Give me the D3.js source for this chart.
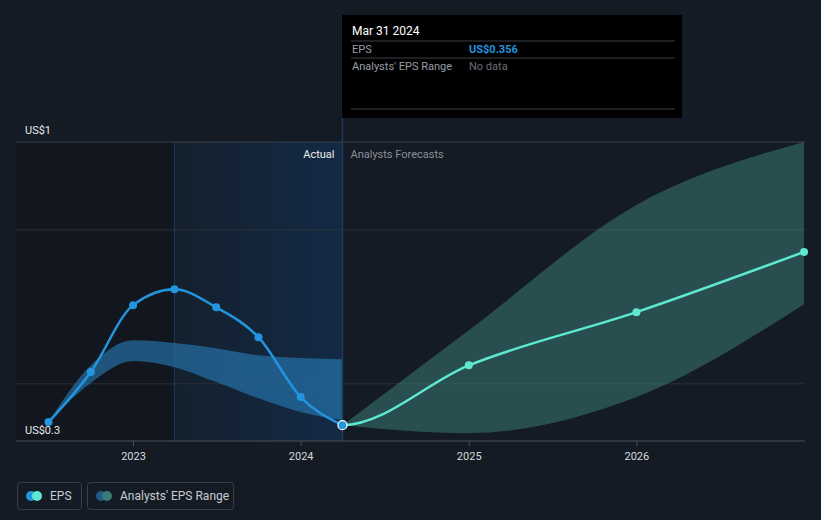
<!DOCTYPE html>
<html>
<head>
<meta charset="utf-8">
<script src="https://cdn.jsdelivr.net/npm/d3@7"></script>
<style>
  body { margin: 0; background: #151b24; }
  svg { display: block; font-family: Roboto, "Open Sans", sans-serif; }
</style>
</head>
<body>
<svg class="chart" width="821" height="520"></svg>
<script>
// past EPS (quarterly, trailing)
const epsDates = ["2022-06-30", "2022-09-30", "2022-12-31", "2023-03-31", "2023-06-30", "2023-09-30", "2023-12-31", "2024-03-31"];
const epsValues = [0.363, 0.477, 0.629, 0.665, 0.624, 0.556, 0.420, 0.356];

// past analyst range
const pastRangeDates = ["2022-06-30", "2022-09-30", "2022-12-31", "2023-03-31", "2023-06-30", "2023-09-30", "2023-12-31", "2024-03-31"];
const pastRangeLow = [0.363, 0.452, 0.502, 0.488, 0.454, 0.417, 0.386, 0.367];
const pastRangeHigh = [0.363, 0.492, 0.549, 0.543, 0.531, 0.515, 0.509, 0.506];

// forecasts
const fcDates = ["2024-03-31", "2024-12-31", "2025-12-31", "2026-12-31"];
const fcValues = [0.356, 0.492, 0.613, 0.750];
const fcLow = [0.356, 0.338, 0.420, 0.631];
const fcHigh = [0.356, 0.572, 0.857, 1.0];

const yearTicks = ["2023", "2024", "2025", "2026"];
const gridValues = [1, 0.8, 0.45];

const parse = d3.timeParse("%Y-%m-%d");
const svg = d3.select(".chart");

const x = d3.scaleTime()
  .domain([parse("2023-01-01"), parse("2027-01-01")])
  .range([133.5, 804.5]);
const y = d3.scaleLinear().domain([0.32, 1]).range([441, 142]);

const plotLeft = 16, plotRight = 805, plotTop = 142, plotBottom = 441;
const nowX = x(parse("2024-03-31"));
const yearAgoX = x(parse("2023-03-31"));

// darker area before last year
svg.append("rect")
  .attr("x", plotLeft).attr("y", plotTop)
  .attr("width", yearAgoX - plotLeft).attr("height", plotBottom - plotTop)
  .attr("fill", "#12171f");

// highlight gradient for the last year
const defs = svg.append("defs");
const grad = defs.append("linearGradient").attr("id", "hl");
grad.append("stop").attr("offset", "0%").attr("stop-color", "#14202d");
grad.append("stop").attr("offset", "100%").attr("stop-color", "#132a45");
svg.append("rect")
  .attr("x", yearAgoX).attr("y", plotTop)
  .attr("width", nowX - yearAgoX).attr("height", plotBottom - plotTop)
  .attr("fill", "url(#hl)");
svg.append("line")
  .attr("x1", yearAgoX).attr("x2", yearAgoX)
  .attr("y1", plotTop).attr("y2", plotBottom)
  .attr("stroke", "#1c3a55").attr("stroke-width", 1);

// clip for forecast part (starts at "now")
defs.append("clipPath").attr("id", "fcclip")
  .append("rect")
  .attr("x", nowX).attr("y", 0)
  .attr("width", plotRight - nowX + 5).attr("height", plotBottom);

// gridlines
svg.selectAll(".grid")
  .data(gridValues)
  .enter()
  .append("line")
  .attr("class", "grid")
  .attr("x1", plotLeft).attr("x2", plotRight)
  .attr("y1", d => y(d)).attr("y2", d => y(d))
  .attr("stroke", d => d === 1 ? "#3a404b" : "#2a303a")
  .attr("stroke-width", 1);

// bands
const area = d3.area().curve(d3.curveMonotoneX);

const pastBand = pastRangeDates.map((d, i) => [x(parse(d)), y(pastRangeLow[i]), y(pastRangeHigh[i])]);
svg.append("path")
  .attr("d", area.x(d => d[0]).y0(d => d[1]).y1(d => d[2])(pastBand))
  .attr("fill", "#2a87c8")
  .attr("opacity", 0.55);

const fcBand = fcDates.map((d, i) => [x(parse(d)), y(fcLow[i]), y(fcHigh[i])]);
svg.append("path")
  .attr("d", area.x(d => d[0]).y0(d => d[1]).y1(d => d[2])(fcBand))
  .attr("fill", "#4aa89e")
  .attr("opacity", 0.36);

// vertical "now" line
svg.append("line")
  .attr("x1", nowX).attr("x2", nowX)
  .attr("y1", 15).attr("y2", plotBottom)
  .attr("stroke", "#1d3a58").attr("stroke-width", 1.5);

// axis
svg.append("line")
  .attr("x1", plotLeft).attr("x2", plotRight)
  .attr("y1", plotBottom).attr("y2", plotBottom)
  .attr("stroke", "#4a505b").attr("stroke-width", 1);

const tickG = svg.selectAll(".tick")
  .data(yearTicks)
  .enter()
  .append("g")
  .attr("class", "tick")
  .attr("transform", d => `translate(${x(parse(d + "-01-01"))},${plotBottom})`);
tickG.append("line").attr("y2", 5).attr("stroke", "#4a505b");
tickG.append("text")
  .attr("y", 19)
  .attr("text-anchor", "middle")
  .attr("font-size", 11)
  .attr("fill", "#d8dade")
  .text(d => d);

// lines
const line = d3.line().curve(d3.curveMonotoneX);
const epsPts = epsDates.map((d, i) => [x(parse(d)), y(epsValues[i])]);
const fcPts = fcDates.map((d, i) => [x(parse(d)), y(fcValues[i])]);

// forecast drawn as continuation of the actual line, clipped at "now"
svg.append("path")
  .attr("d", line(epsPts.slice(-2, -1).concat(fcPts)))
  .attr("clip-path", "url(#fcclip)")
  .attr("fill", "none")
  .attr("stroke", "#5ee8d0")
  .attr("stroke-width", 2.5);

svg.append("path")
  .attr("d", line(epsPts))
  .attr("fill", "none")
  .attr("stroke", "#2394df")
  .attr("stroke-width", 2.5);

svg.selectAll(".fcdot")
  .data(fcPts.slice(1))
  .enter()
  .append("circle")
  .attr("class", "fcdot")
  .attr("cx", d => d[0]).attr("cy", d => d[1])
  .attr("r", 4)
  .attr("fill", "#5ee8d0");

svg.selectAll(".epsdot")
  .data(epsPts.slice(0, -1))
  .enter()
  .append("circle")
  .attr("class", "epsdot")
  .attr("cx", d => d[0]).attr("cy", d => d[1])
  .attr("r", 4)
  .attr("fill", "#2394df");

const last = epsPts[epsPts.length - 1];
svg.append("circle")
  .attr("cx", last[0]).attr("cy", last[1])
  .attr("r", 4.5)
  .attr("fill", "#2394df")
  .attr("stroke", "#ffffff")
  .attr("stroke-width", 1.2);

// y labels
svg.append("text")
  .attr("x", 25).attr("y", 134)
  .attr("font-size", 11).attr("fill", "#e8e9ec")
  .text("US$1");
svg.append("text")
  .attr("x", 25).attr("y", 434)
  .attr("font-size", 11).attr("fill", "#e8e9ec")
  .text("US$0.3");

// section labels
svg.append("text")
  .attr("x", nowX - 8).attr("y", 158)
  .attr("text-anchor", "end")
  .attr("font-size", 11).attr("fill", "#eceef1")
  .text("Actual");
svg.append("text")
  .attr("x", nowX + 8).attr("y", 158)
  .attr("font-size", 11).attr("fill", "#8a8e96")
  .text("Analysts Forecasts");

// tooltip
const tip = svg.append("g").attr("transform", "translate(342,15)");
tip.append("rect")
  .attr("width", 340).attr("height", 103)
  .attr("fill", "#000000");
[26, 43, 94].forEach(yy => {
  tip.append("line")
    .attr("x1", 9).attr("x2", 333)
    .attr("y1", yy).attr("y2", yy)
    .attr("stroke", "#3b3e44").attr("stroke-width", 1);
});
tip.append("text").attr("x", 10).attr("y", 20)
  .attr("font-size", 12).attr("fill", "#ffffff").text("Mar 31 2024");
tip.append("text").attr("x", 10).attr("y", 38)
  .attr("font-size", 11).attr("fill", "#9a9da3").text("EPS");
tip.append("text").attr("x", 127).attr("y", 38)
  .attr("font-size", 11).attr("font-weight", "bold").attr("fill", "#2394df").text("US$0.356");
tip.append("text").attr("x", 10).attr("y", 55)
  .attr("font-size", 11).attr("fill", "#9a9da3").text("Analysts' EPS Range");
tip.append("text").attr("x", 127).attr("y", 55)
  .attr("font-size", 11).attr("fill", "#6c6f75").text("No data");

// legend
const legendItems = [
  { label: "EPS", x: 17, w: 64, c1: "#2394df", c2: "#5ee8d0" },
  { label: "Analysts' EPS Range", x: 87, w: 146, c1: "#1f5a8a", c2: "#3a7a78" }
];
const lg = svg.selectAll(".legend")
  .data(legendItems)
  .enter()
  .append("g")
  .attr("class", "legend")
  .attr("transform", d => `translate(${d.x},482)`);
lg.append("rect")
  .attr("x", 0.5).attr("y", 0.5)
  .attr("width", d => d.w).attr("height", 27)
  .attr("rx", 3)
  .attr("fill", "none")
  .attr("stroke", "#3a3f49");
lg.append("circle").attr("cx", 14).attr("cy", 14).attr("r", 5).attr("fill", d => d.c1);
lg.append("circle").attr("cx", 20).attr("cy", 14).attr("r", 5).attr("fill", d => d.c2);
lg.append("text")
  .attr("x", 33).attr("y", 18)
  .attr("font-size", 12)
  .attr("fill", "#c9ccd1")
  .text(d => d.label);
</script>
</body>
</html>
